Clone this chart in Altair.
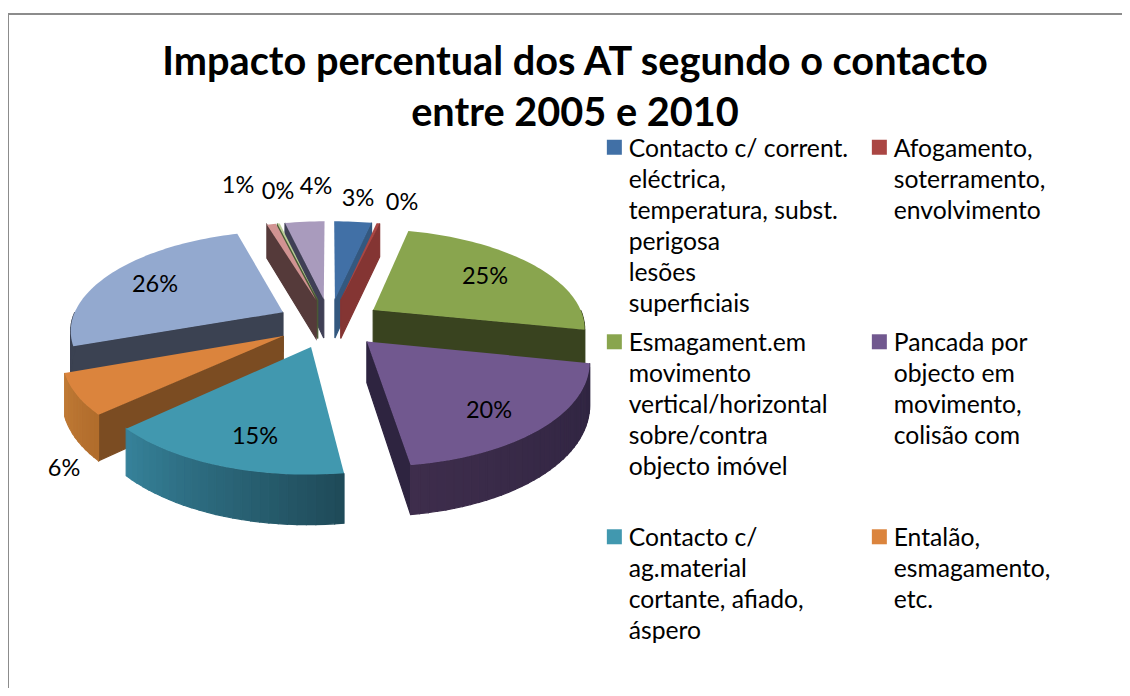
import math
import altair as alt
import pandas as pd

# ---- data ----
slice_names = [
    "Contacto c/ corrent.|eléctrica,|temperatura, subst.|perigosa|lesões|superficiais",
    "Afogamento,|soterramento,|envolvimento| | | ",
    "Esmagament.em|movimento|vertical/horizontal|sobre/contra|objecto imóvel| ",
    "Pancada por|objecto em|movimento,|colisão com| | ",
    "Contacto c/|ag.material|cortante, afiado,|áspero",
    "Entalão,|esmagamento,|etc.| ",
    "Outros 7", "Outros 8", "Outros 9", "Outros 10",
]
slice_values = [3.39, 0.28, 24.56, 19.56, 15.28, 6.39, 25.9, 0.83, 0.22, 3.59]
slice_labels = ["3%", "0%", "25%", "20%", "15%", "6%", "26%", "1%", "0%", "4%"]
legend_order = [0, 2, 4, 1, 3, 5]

# ---- styles ----
top_colors = ["#4170a6", "#aa4643", "#89a54e", "#71588f", "#4198af", "#db843d",
              "#93a9cf", "#d19392", "#b9cd96", "#a99bbd"]
face_colors = ["#34587f", "#843533", "#39431f", "#2e2440", None, "#7b4c22",
               "#3b4252", "#553a3a", "#4a5a35", "#3f3f55"]
face_side = ["end", "end", "end", "end", None, "start", "start", "start", "start", "start"]
wall_from = ["#34587f", "#843533", "#39431f", "#2e2440", "#1f4a58", "#b06c2c",
             "#3b4252", "#553a3a", "#4a5a35", "#3f3f55"]
wall_to = ["#34587f", "#843533", "#39431f", "#3e2d4c", "#36829a", "#c07a35",
           "#3b4252", "#553a3a", "#4a5a35", "#3f3f55"]
paint_order = [0, 1, 9, 8, 7, 6, 2, 5, 3, 4]
label_px = [(358, 199), (402, 203), (485, 277), (489, 411), (255, 437),
            (64, 469), (155, 285), (238, 186), (278, 192), (316, 187)]

# ---- 3D pie projection ----
CX, CY, RX, RY, K, H, EXPLODE = 329.5, 323.0, 212.0, 98.0, 0.163, 40.0, 0.25


def project(u, v, z=0.0):
    w = 1.0 / (1.0 - K * v)
    return CX + RX * u * w, CY + (RY * v + H * z) * w


def mix(a, b, t):
    ca = [int(a[i:i + 2], 16) for i in (1, 3, 5)]
    cb = [int(b[i:i + 2], 16) for i in (1, 3, 5)]
    return "#" + "".join(f"{round(x + (y - x) * t):02x}" for x, y in zip(ca, cb))


total = sum(slice_values)
bounds = [0.0]
for val in slice_values:
    bounds.append(bounds[-1] + 360.0 * val / total)

body, tops = [], []
pid = 0


def add(rows, pts, **extra):
    global pid
    pid += 1
    for i, (px, py) in enumerate(pts + pts[:1]):
        rows.append({"pid": pid, "i": i, "px": px, "py": py, **extra})


for s in paint_order:
    a0, a1 = bounds[s], bounds[s + 1]
    mid = math.radians((a0 + a1) / 2)
    ax, ay = EXPLODE * math.sin(mid), -EXPLODE * math.cos(mid)

    def rim(deg):
        t = math.radians(deg)
        return ax + math.sin(t), ay - math.cos(t)

    # radial face
    if face_side[s]:
        e = a0 if face_side[s] == "start" else a1
        ex, ey = rim(e)
        add(body, [project(ax, ay), project(ex, ey), project(ex, ey, 1), project(ax, ay, 1)],
            c=face_colors[s])
    # outer wall, front half only, in shaded strips
    lo, hi = max(a0, 90.0), min(a1, 270.0)
    if hi > lo:
        n = max(1, int((hi - lo) / 2))
        for j in range(n):
            d0 = lo + (hi - lo) * j / n
            d1 = lo + (hi - lo) * (j + 1) / n
            x0, y0 = rim(d0)
            x1, y1 = rim(d1)
            add(body, [project(x0, y0), project(x1, y1), project(x1, y1, 1), project(x0, y0, 1)],
                c=mix(wall_from[s], wall_to[s], (j + 0.5) / n))
    # top surface
    steps = max(2, int((a1 - a0) / 1.5))
    pts = [project(ax, ay)]
    for j in range(steps + 1):
        pts.append(project(*rim(a0 + (a1 - a0) * j / steps)))
    add(tops, pts, name=slice_names[s])

X = alt.X("px:Q", axis=None, scale=alt.Scale(domain=[8, 1122], nice=False, zero=False))
Y = alt.Y("py:Q", axis=None, scale=alt.Scale(domain=[688, 8], nice=False, zero=False))

body_layer = alt.Chart(pd.DataFrame(body)).mark_line(strokeWidth=1.2).encode(
    x=X, y=Y, order="i:Q", detail="pid:N",
    fill=alt.Fill("c:N", scale=None), stroke=alt.Stroke("c:N", scale=None),
)

legend = alt.Legend(
    title=None, orient="none", legendX=594, legendY=116, columns=2,
    values=[slice_names[i] for i in legend_order], symbolType="M-1,0.39H1V2.39H-1Z", symbolSize=225,
    symbolStrokeWidth=0, labelFont="Lato", labelFontSize=24.7, labelColor="#000000",
    labelLimit=400, labelBaseline="top", labelExpr="split(datum.value,'|')",
    labelOffset=2, columnPadding=18, gridAlign="all", symbolOpacity=1,
    labelOverlap=False,
)
top_layer = alt.Chart(pd.DataFrame(tops)).mark_line(strokeWidth=0).encode(
    x=X, y=Y, order="i:Q", detail="pid:N",
    fill=alt.Fill("name:N", scale=alt.Scale(domain=slice_names, range=top_colors), legend=legend),
)

labels = pd.DataFrame({
    "t": slice_labels,
    "px": [p[0] for p in label_px],
    "py": [p[1] for p in label_px],
})
label_layer = alt.Chart(labels).mark_text(font="Lato", fontSize=23.5, color="#000000").encode(
    x=X, y=Y, text="t:N",
)

frame_h = alt.Chart(pd.DataFrame({"px": [8], "px2": [1122], "py": [14]})).mark_rule(
    color="#8c8c8c", strokeWidth=2).encode(x=X, x2="px2:Q", y=Y)
frame_v = alt.Chart(pd.DataFrame({"px": [8], "py": [14], "py2": [688]})).mark_rule(
    color="#8c8c8c", strokeWidth=2).encode(x=X, y=Y, y2="py2:Q")

chart = alt.layer(frame_h, frame_v, body_layer, top_layer, label_layer).properties(
    width=1114, height=680, padding=0, autosize=alt.AutoSizeParams(type="none"),
    title=alt.TitleParams(
        text=["Impacto percentual dos AT segundo o contacto", "entre 2005 e 2010"],
        font="Lato", fontSize=39.7, fontWeight="bold", color="#000000", lineHeight=51,
        anchor="start", align="center", dx=568, dy=127, offset=0,
    ),
).configure(view=alt.ViewConfig(stroke=None), style={"guide-label": {"lineHeight": 31}})

chart.save("out.html", embed_options={"renderer": "svg", "actions": False})
